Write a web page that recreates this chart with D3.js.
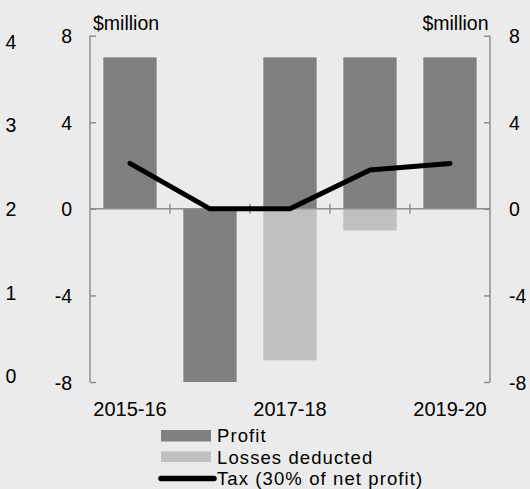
<!DOCTYPE html>
<html>
<head>
<meta charset="utf-8">
<script src="https://cdn.jsdelivr.net/npm/d3@7"></script>
<style>
  html, body { margin: 0; padding: 0; background: #ebebeb; }
  svg { display: block; font-family: "Liberation Sans", Arial, sans-serif; }
</style>
</head>
<body>
<svg id="chart" width="530" height="489"></svg>
<script>
const categories = ["2015-16", "2016-17", "2017-18", "2018-19", "2019-20"];
const profit = [7, -8, 7, 7, 7];
const lossesDeducted = [0, 0, -7, -1, 0];
const tax = [2.1, 0, 0, 1.8, 2.1];
const xTickLabels = ["2015-16", "2017-18", "2019-20"];
const yTicks = [-8, -4, 0, 4, 8];
const outerTicks = [0, 1, 2, 3, 4];
const legendLabels = ["Profit", "Losses deducted", "Tax (30% of net profit)"];
const unitLabel = "$million";

(function () {
const svg = d3.select("#chart");
const pLeft = 90, pRight = 490, pTop = 35.7, pBottom = 382;
const axisColor = "#8f8f8f";
const profitColor = "#808080", lossColor = "#c0c0c0";

const x = d3.scaleBand().domain(categories).range([pLeft, pRight])
  .paddingInner(1/3).paddingOuter(1/6);
const y = d3.scaleLinear().domain([-8, 8]).range([pBottom, pTop]);
const yOuter = d3.scaleLinear().domain([0, 4]).range([375.7, 41]);

// bars
svg.append("g").selectAll("rect").data(categories).join("rect")
  .attr("x", d => x(d))
  .attr("width", x.bandwidth())
  .attr("y", (d, i) => y(Math.max(0, profit[i])))
  .attr("height", (d, i) => Math.abs(y(profit[i]) - y(0)))
  .attr("fill", profitColor);
svg.append("g").selectAll("rect").data(categories).join("rect")
  .attr("x", d => x(d))
  .attr("width", x.bandwidth())
  .attr("y", (d, i) => y(Math.max(0, lossesDeducted[i])))
  .attr("height", (d, i) => Math.abs(y(lossesDeducted[i]) - y(0)))
  .attr("fill", lossColor);

// left axis
const gl = svg.append("g").attr("transform", `translate(${pLeft},0)`)
  .call(d3.axisRight(y).tickValues(yTicks).tickSize(6).tickFormat(""));
gl.select(".domain").remove();
gl.selectAll("line").attr("stroke", axisColor).attr("stroke-width", 1.5);
gl.append("line").attr("y1", pTop).attr("y2", pBottom).attr("stroke", axisColor).attr("stroke-width", 1.5);

// right axis
const gr = svg.append("g").attr("transform", `translate(${pRight},0)`)
  .call(d3.axisLeft(y).tickValues(yTicks).tickSize(6).tickFormat(""));
gr.select(".domain").remove();
gr.selectAll("line").attr("stroke", axisColor).attr("stroke-width", 1.5);
gr.append("line").attr("y1", pTop).attr("y2", pBottom).attr("stroke", axisColor).attr("stroke-width", 1.5);

// zero line with category separators
svg.append("line").attr("x1", pLeft).attr("x2", pRight).attr("y1", y(0)).attr("y2", y(0))
  .attr("stroke", axisColor).attr("stroke-width", 1.5);
svg.append("g").selectAll("line").data(categories.slice(1)).join("line")
  .attr("x1", d => x(d) - x.step() * x.paddingInner() / 2)
  .attr("x2", d => x(d) - x.step() * x.paddingInner() / 2)
  .attr("y1", y(0) - 5).attr("y2", y(0) + 5)
  .attr("stroke", axisColor).attr("stroke-width", 1.5);

// tick labels
const fs = 19.5;
svg.append("g").selectAll("text").data(yTicks).join("text")
  .attr("x", 72).attr("y", d => y(d) + 7.5)
  .attr("text-anchor", "end").attr("font-size", fs).text(d => d);
svg.append("g").selectAll("text").data(yTicks).join("text")
  .attr("x", 509).attr("y", d => y(d) + 7.5)
  .attr("text-anchor", "start").attr("font-size", fs).text(d => d);
svg.append("g").selectAll("text").data(outerTicks).join("text")
  .attr("x", 11).attr("y", d => yOuter(d) + 7.5)
  .attr("text-anchor", "middle").attr("font-size", fs).text(d => d);
svg.append("g").selectAll("text").data(xTickLabels).join("text")
  .attr("x", d => x(d) + x.bandwidth() / 2)
  .attr("y", 416)
  .attr("text-anchor", "middle").attr("font-size", 20).text(d => d);

svg.append("text").attr("x", 93).attr("y", 30).attr("font-size", fs).text(unitLabel);
svg.append("text").attr("x", 488.5).attr("y", 30).attr("font-size", fs)
  .attr("text-anchor", "end").text(unitLabel);

// tax line
const line = d3.line().x((d, i) => x(categories[i]) + x.bandwidth() / 2).y(d => y(d));
svg.append("path").datum(tax).attr("d", line)
  .attr("fill", "none").attr("stroke", "#000").attr("stroke-width", 5)
  .attr("stroke-linejoin", "round").attr("stroke-linecap", "round");

// legend
const lg = svg.append("g");
const lfs = 18.5;
lg.append("rect").attr("x", 161).attr("y", 430).attr("width", 50).attr("height", 11.5).attr("fill", profitColor);
lg.append("rect").attr("x", 161).attr("y", 451.5).attr("width", 50).attr("height", 10.5).attr("fill", lossColor);
lg.append("line").attr("x1", 161).attr("x2", 214).attr("y1", 478.5).attr("y2", 478.5)
  .attr("stroke", "#000").attr("stroke-width", 5.5).attr("stroke-linecap", "round");
const lbase = [442, 463.5, 485];
lg.selectAll("text").data(legendLabels).join("text")
  .attr("x", 217).attr("y", (d, i) => lbase[i])
  .attr("font-size", lfs).attr("letter-spacing", 1.1).text(d => d);
})();
</script>
</body>
</html>
